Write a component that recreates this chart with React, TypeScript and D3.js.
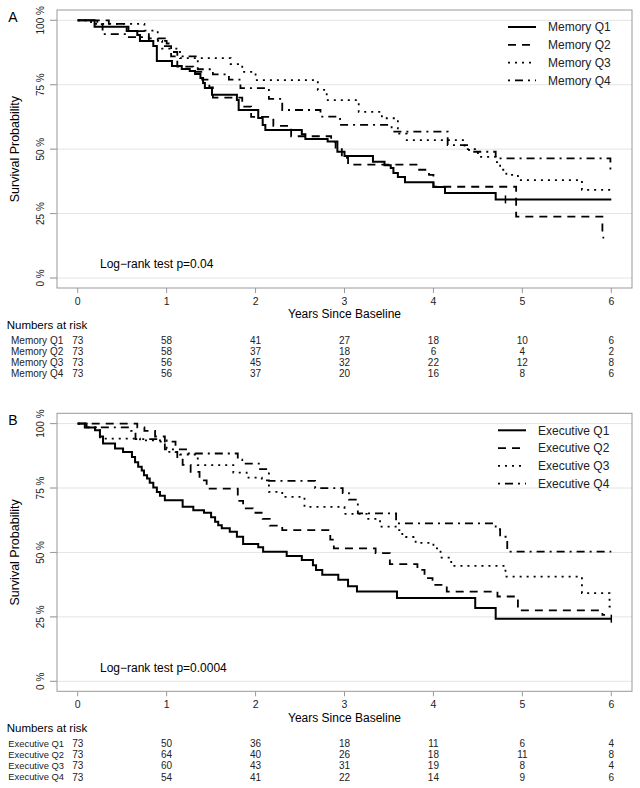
import React from "react";
import * as d3 from "d3";

// ---------- DATA ----------
const yearTicks = [0, 1, 2, 3, 4, 5, 6];
const survTicks = [0, 0.25, 0.5, 0.75, 1];
const survTickLabels = ["0 %", "25 %", "50 %", "75 %", "100 %"];

const memoryNames = ["Memory Q1", "Memory Q2", "Memory Q3", "Memory Q4"];
const executiveNames = ["Executive Q1", "Executive Q2", "Executive Q3", "Executive Q4"];

// step curves: [time, survival after the step]
const memQ1: [number, number][] = [
  [0, 1], [0.19, 0.975], [0.57, 0.958], [0.67, 0.943], [0.7, 0.92], [0.85, 0.9], [0.89, 0.842],
  [1.06, 0.823], [1.17, 0.811], [1.26, 0.803], [1.32, 0.792], [1.38, 0.776], [1.41, 0.757],
  [1.43, 0.737], [1.51, 0.711], [1.79, 0.691], [1.81, 0.652], [2.03, 0.621], [2.08, 0.594],
  [2.11, 0.574], [2.52, 0.558], [2.56, 0.539], [2.81, 0.53], [2.92, 0.49], [3.0, 0.473],
  [3.32, 0.451], [3.45, 0.438], [3.52, 0.427], [3.55, 0.407], [3.6, 0.392], [3.68, 0.372],
  [4.0, 0.353], [4.13, 0.33], [4.7, 0.305], [6.0, 0.305],
];
const memQ2: [number, number][] = [
  [0, 1], [0.35, 0.986], [0.55, 0.958], [0.8, 0.93], [0.98, 0.9], [1.05, 0.86], [1.12, 0.82],
  [1.3, 0.8], [1.4, 0.77], [1.48, 0.74], [1.52, 0.7], [1.85, 0.665], [1.95, 0.625], [2.2, 0.59],
  [2.4, 0.55], [2.85, 0.528], [2.9, 0.5], [2.97, 0.466], [3.04, 0.44], [3.82, 0.42], [3.95, 0.4],
  [4.0, 0.354], [4.93, 0.238], [5.9, 0.157], [5.92, 0.157],
];
const memQ3: [number, number][] = [
  [0, 1], [0.15, 0.986], [0.75, 0.96], [0.9, 0.92], [0.95, 0.89], [1.15, 0.853], [1.72, 0.83],
  [1.85, 0.8], [2.0, 0.768], [2.7, 0.73], [2.8, 0.69], [3.16, 0.645], [3.42, 0.62], [3.6, 0.56],
  [3.7, 0.535], [4.35, 0.5], [4.5, 0.47], [4.7, 0.45], [4.75, 0.42], [4.82, 0.4], [4.95, 0.38],
  [5.67, 0.342], [6.0, 0.342],
];
const memQ4: [number, number][] = [
  [0, 1], [0.22, 0.985], [0.28, 0.946], [0.55, 0.935], [0.8, 0.92], [1.0, 0.91], [1.05, 0.877],
  [1.12, 0.86], [1.35, 0.81], [1.52, 0.79], [1.7, 0.77], [1.83, 0.737], [2.15, 0.695],
  [2.3, 0.652], [2.73, 0.626], [2.95, 0.594], [3.53, 0.568], [4.16, 0.516], [4.4, 0.49],
  [4.7, 0.464], [5.99, 0.41], [6.0, 0.41],
];

const exeQ1: [number, number][] = [
  [0, 1], [0.08, 0.985], [0.195, 0.974], [0.25, 0.95], [0.285, 0.923], [0.42, 0.903],
  [0.51, 0.89], [0.61, 0.87], [0.645, 0.85], [0.68, 0.833], [0.72, 0.818], [0.745, 0.8],
  [0.78, 0.787], [0.81, 0.77], [0.85, 0.752], [0.89, 0.735], [0.925, 0.72], [0.98, 0.703],
  [1.18, 0.677], [1.3, 0.664], [1.42, 0.654], [1.5, 0.637], [1.545, 0.619], [1.58, 0.606],
  [1.62, 0.594], [1.71, 0.58], [1.79, 0.561], [1.86, 0.533], [2.03, 0.52], [2.085, 0.503],
  [2.35, 0.486], [2.52, 0.471], [2.645, 0.45], [2.68, 0.432], [2.75, 0.413], [2.93, 0.394],
  [3.04, 0.369], [3.14, 0.348], [3.59, 0.323], [4.47, 0.284], [4.7, 0.243], [6.0, 0.243],
];
const exeQ2: [number, number][] = [
  [0, 1], [0.67, 0.985], [0.75, 0.972], [0.87, 0.95], [0.98, 0.93], [1.1, 0.89], [1.12, 0.87],
  [1.18, 0.84], [1.27, 0.813], [1.37, 0.78], [1.45, 0.748], [1.8, 0.7], [1.86, 0.671],
  [1.97, 0.654], [2.08, 0.63], [2.16, 0.604], [2.3, 0.587], [2.84, 0.55], [2.88, 0.516],
  [3.35, 0.497], [3.51, 0.455], [3.82, 0.432], [3.9, 0.4], [3.99, 0.374], [4.15, 0.348],
  [4.72, 0.329], [4.95, 0.275], [5.9, 0.258], [5.93, 0.258],
];
const exeQ3: [number, number][] = [
  [0, 1], [0.1, 0.985], [0.25, 0.942], [0.7, 0.935], [1.0, 0.89], [1.15, 0.88], [1.35, 0.839],
  [1.75, 0.81], [1.9, 0.79], [2.07, 0.78], [2.15, 0.735], [2.3, 0.716], [2.55, 0.677],
  [3.0, 0.65], [3.25, 0.63], [3.4, 0.6], [3.6, 0.587], [3.65, 0.56], [3.8, 0.537], [4.0, 0.516],
  [4.08, 0.48], [4.2, 0.448], [4.81, 0.406], [5.67, 0.342], [5.98, 0.29], [6.0, 0.29],
];
const exeQ4: [number, number][] = [
  [0, 1], [0.1, 0.985], [0.6, 0.972], [0.65, 0.94], [0.9, 0.93], [0.98, 0.9], [1.23, 0.884],
  [1.8, 0.86], [1.85, 0.845], [2.05, 0.823], [2.15, 0.778], [2.67, 0.75], [2.98, 0.73],
  [3.05, 0.705], [3.15, 0.652], [3.58, 0.613], [4.7, 0.59], [4.75, 0.561], [4.83, 0.503],
  [6.0, 0.503],
];

const memCensor: [number, number][] = [[4.81, 0.305]];
const exeCensor: [number, number][] = [[6.0, 0.243]];

const memRisk = [
  [73, 58, 41, 27, 18, 10, 6],
  [73, 58, 37, 18, 6, 4, 2],
  [73, 56, 45, 32, 22, 12, 8],
  [73, 56, 37, 20, 16, 8, 6],
];
const exeRisk = [
  [73, 50, 36, 18, 11, 6, 4],
  [73, 64, 40, 26, 18, 11, 8],
  [73, 60, 43, 31, 19, 8, 4],
  [73, 54, 41, 22, 14, 9, 6],
];

// ---------- STYLE ----------
const FONT = "Liberation Sans, Arial, sans-serif";
const dashes = [null, "8,6", "2,5", "2,5,8,5"];

const x = d3.scaleLinear().domain([0, 6]).range([77.7, 611.3]);

function Panel({ top, letter, names, curves, censor, risk, pText, legendX, rowLabelX, rowFont }: any) {
  const y = d3.scaleLinear().domain([0, 1]).range([top + 268, top + 10.3]);
  const line = d3
    .line<[number, number]>()
    .x((d) => x(d[0]))
    .y((d) => y(d[1]))
    .curve(d3.curveStepAfter);
  const boxL = 57, boxR = 632, boxT = top, boxB = top + 278;
  const midY = (y(0) + y(1)) / 2;
  return (
    <g fontFamily={FONT}>
      <text x={13} y={top + 7} dy="0.35em" fontSize={14} textAnchor="middle">{letter}</text>
      {survTicks.map((s, i) => (
        <g key={i}>
          <line x1={50} x2={boxR} y1={y(s)} y2={y(s)} stroke="#e4e4e4" strokeWidth={1} />
          <line x1={50} x2={boxL} y1={y(s)} y2={y(s)} stroke="#999" strokeWidth={1} />
          <text transform={`translate(40,${y(s)}) rotate(-90)`} dy="0.35em" textAnchor="middle" fontSize={10} fill="#222">
            {survTickLabels[i]}
          </text>
        </g>
      ))}
      <rect x={boxL} y={boxT} width={boxR - boxL} height={boxB - boxT} fill="none" stroke="#999" strokeWidth={1} />
      {yearTicks.map((t) => (
        <g key={t}>
          <line x1={x(t)} x2={x(t)} y1={boxB} y2={boxB + 5} stroke="#999" strokeWidth={1} />
          <text x={x(t)} y={top + 291} dy="0.35em" textAnchor="middle" fontSize={10.5} fill="#222">{t}</text>
        </g>
      ))}
      <text transform={`translate(15,${midY}) rotate(-90)`} dy="0.35em" textAnchor="middle" fontSize={12.5}>
        Survival Probability
      </text>
      <text x={(x(0) + x(6)) / 2} y={top + 304} dy="0.35em" textAnchor="middle" fontSize={12}>
        Years Since Baseline
      </text>
      {curves.map((c: [number, number][], i: number) => (
        <path key={i} d={line(c) || ""} fill="none" stroke="#000" strokeWidth={i === 0 ? 2 : 1.8}
          strokeDasharray={dashes[i] || undefined} />
      ))}
      {censor.map((c: [number, number], i: number) => (
        <line key={i} x1={x(c[0])} x2={x(c[0])} y1={y(c[1]) - 4} y2={y(c[1]) + 4} stroke="#000" strokeWidth={1.5} />
      ))}
      {names.map((n: string, i: number) => (
        <g key={n}>
          <line x1={legendX} x2={legendX + 28} y1={top + 17 + i * 17.8} y2={top + 17 + i * 17.8}
            stroke="#000" strokeWidth={i === 0 ? 2 : 1.8} strokeDasharray={dashes[i] || undefined} />
          <text x={legendX + 40} y={top + 17 + i * 17.8} dy="0.35em" fontSize={12} fill="#222">{n}</text>
        </g>
      ))}
      <text x={100} y={top + 254} dy="0.35em" fontSize={12}>{pText}</text>
      <text x={6.7} y={top + 315} dy="0.35em" fontSize={11.5}>Numbers at risk</text>
      {risk.map((row: number[], r: number) => (
        <g key={r}>
          <text x={rowLabelX} y={top + 330 + r * 11.3} dy="0.35em" fontSize={rowFont} fill="#222">{names[r]}</text>
          {row.map((v, j) => (
            <text key={j} x={x(yearTicks[j])} y={top + 330 + r * 11.3} dy="0.35em" textAnchor="middle" fontSize={10} fill="#222">
              {v}
            </text>
          ))}
        </g>
      ))}
    </g>
  );
}

export default function App() {
  return (
    <svg width={640} height={788} style={{ position: "absolute", left: 0, top: 0, background: "#fff" }}>
      <rect width={640} height={788} fill="#fff" />
      <Panel top={10} letter="A" names={memoryNames} curves={[memQ1, memQ2, memQ3, memQ4]} censor={memCensor}
        risk={memRisk} pText="Log−rank test p=0.04" legendX={508} rowLabelX={11} rowFont={10} />
      <Panel top={413.3} letter="B" names={executiveNames} curves={[exeQ1, exeQ2, exeQ3, exeQ4]} censor={exeCensor}
        risk={exeRisk} pText="Log−rank test p=0.0004" legendX={498} rowLabelX={8.3} rowFont={9.4} />
    </svg>
  );
}
